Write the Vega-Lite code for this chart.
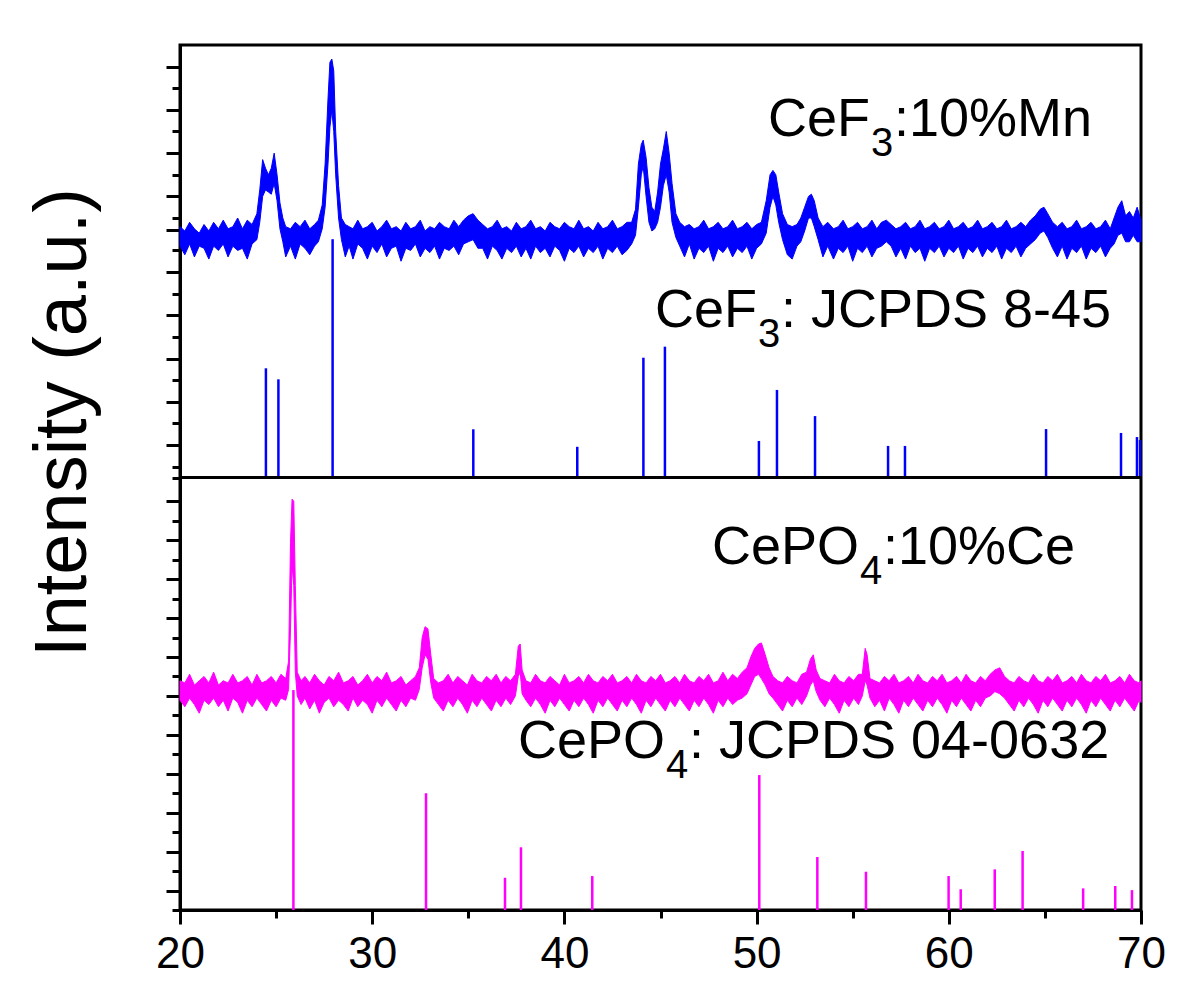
{
"$schema": "https://vega.github.io/schema/vega-lite/v6.json",
"width": 961, "height": 865,
"autosize": {"type": "none"},
"padding": {"left": 180, "top": 45, "right": 59, "bottom": 88},
"background": "white",
"config": {"view": {"stroke": "black", "strokeWidth": 3}},
"datasets": {
"topref": [{"x":24.47,"y":250.5},{"x":25.12,"y":245.4},{"x":27.94,"y":310.2},{"x":35.26,"y":222.3},{"x":40.67,"y":214.2},{"x":44.11,"y":255.4},{"x":45.23,"y":260.5},{"x":50.12,"y":216.9},{"x":51.06,"y":240.5},{"x":53.04,"y":228.4},{"x":56.84,"y":214.6},{"x":57.72,"y":214.6},{"x":65.06,"y":222.4},{"x":68.96,"y":220.6},{"x":69.79,"y":218.7},{"x":69.95,"y":217.3}],
"botref": [{"x":25.9,"y":101.7},{"x":32.8,"y":54.0},{"x":36.91,"y":14.9},{"x":37.74,"y":29.0},{"x":41.45,"y":15.7},{"x":50.14,"y":62.4},{"x":53.16,"y":24.5},{"x":55.69,"y":17.7},{"x":59.99,"y":15.7},{"x":60.62,"y":9.6},{"x":62.39,"y":18.8},{"x":63.84,"y":27.3},{"x":66.99,"y":10.0},{"x":68.66,"y":11.1},{"x":69.53,"y":9.2}],
"top": [
{"x":20.0,"y":307,"y2":316},{"x":20.25,"y":303,"y2":314},{"x":20.5,"y":308,"y2":318},{"x":20.75,"y":302,"y2":315},{"x":21.0,"y":307,"y2":313},{"x":21.25,"y":306,"y2":317},{"x":21.5,"y":301,"y2":314},{"x":21.75,"y":307,"y2":318},{"x":22.0,"y":305,"y2":315},{"x":22.25,"y":308,"y2":319},{"x":22.5,"y":302,"y2":315},{"x":22.75,"y":307,"y2":316},{"x":23.0,"y":305,"y2":320},{"x":23.25,"y":306,"y2":315},{"x":23.5,"y":301,"y2":319},{"x":23.75,"y":308,"y2":317},
{"x":24.0,"y":310,"y2":322},{"x":24.15,"y":318,"y2":333},{"x":24.3,"y":330,"y2":347},{"x":24.45,"y":333,"y2":343},{"x":24.6,"y":332,"y2":340},{"x":24.75,"y":331,"y2":343},{"x":24.9,"y":336,"y2":350},{"x":25.05,"y":328,"y2":340},{"x":25.2,"y":315,"y2":327},{"x":25.35,"y":309,"y2":320},{"x":25.5,"y":302,"y2":316},{"x":25.75,"y":307,"y2":315},{"x":26.0,"y":301,"y2":318},{"x":26.25,"y":308,"y2":316},{"x":26.5,"y":306,"y2":319},{"x":26.75,"y":303,"y2":315},{"x":27.0,"y":307,"y2":317},{"x":27.2,"y":309,"y2":319},
{"x":27.4,"y":315,"y2":326},{"x":27.55,"y":325,"y2":345},{"x":27.7,"y":345,"y2":375},{"x":27.8,"y":362,"y2":392},{"x":27.9,"y":370,"y2":393.5},{"x":28.0,"y":360,"y2":388},{"x":28.1,"y":340,"y2":360},{"x":28.25,"y":320,"y2":335},{"x":28.4,"y":310,"y2":320},{"x":28.6,"y":302,"y2":317},{"x":28.8,"y":307,"y2":316},{"x":29.0,"y":301,"y2":315},{"x":29.25,"y":308,"y2":319},{"x":29.5,"y":306,"y2":315},{"x":29.75,"y":301,"y2":316},
{"x":30.0,"y":307,"y2":318},{"x":30.25,"y":304,"y2":314},{"x":30.5,"y":308,"y2":316},{"x":30.75,"y":302,"y2":319},{"x":31.0,"y":306,"y2":315},{"x":31.25,"y":307,"y2":316},{"x":31.5,"y":300,"y2":314},{"x":31.75,"y":306,"y2":318},{"x":32.0,"y":305,"y2":315},{"x":32.25,"y":308,"y2":316},{"x":32.5,"y":302,"y2":319},{"x":32.75,"y":306,"y2":314},{"x":33.0,"y":304,"y2":316},{"x":33.25,"y":307,"y2":315},{"x":33.5,"y":301,"y2":318},{"x":33.75,"y":306,"y2":316},
{"x":34.0,"y":305,"y2":315},{"x":34.25,"y":307,"y2":319},{"x":34.5,"y":303,"y2":316},{"x":34.75,"y":308,"y2":319},{"x":35.0,"y":309,"y2":321},{"x":35.25,"y":310,"y2":322},{"x":35.5,"y":306,"y2":319},{"x":35.75,"y":306,"y2":317},{"x":36.0,"y":301,"y2":315},{"x":36.25,"y":307,"y2":316},{"x":36.5,"y":305,"y2":319},{"x":36.75,"y":301,"y2":315},{"x":37.0,"y":306,"y2":316},{"x":37.25,"y":304,"y2":314},{"x":37.5,"y":307,"y2":318},{"x":37.75,"y":302,"y2":315},
{"x":38.0,"y":306,"y2":316},{"x":38.25,"y":301,"y2":319},{"x":38.5,"y":307,"y2":315},{"x":38.75,"y":304,"y2":316},{"x":39.0,"y":306,"y2":314},{"x":39.25,"y":302,"y2":318},{"x":39.5,"y":307,"y2":316},{"x":39.75,"y":305,"y2":315},{"x":40.0,"y":300,"y2":318},{"x":40.25,"y":306,"y2":316},{"x":40.5,"y":304,"y2":315},{"x":40.75,"y":307,"y2":319},{"x":41.0,"y":302,"y2":315},{"x":41.25,"y":306,"y2":316},{"x":41.5,"y":304,"y2":314},{"x":41.75,"y":307,"y2":318},
{"x":42.0,"y":301,"y2":315},{"x":42.25,"y":306,"y2":316},{"x":42.5,"y":304,"y2":319},{"x":42.75,"y":307,"y2":315},{"x":43.0,"y":303,"y2":316},{"x":43.25,"y":305,"y2":318},{"x":43.5,"y":308,"y2":318},{"x":43.7,"y":312,"y2":324},{"x":43.85,"y":325,"y2":345},{"x":44.0,"y":340,"y2":354},{"x":44.1,"y":344,"y2":356},{"x":44.25,"y":330,"y2":348},{"x":44.4,"y":318,"y2":334},{"x":44.55,"y":314,"y2":325},{"x":44.7,"y":315,"y2":323},{"x":44.85,"y":318,"y2":332},
{"x":45.0,"y":325,"y2":345},{"x":45.15,"y":335,"y2":352},{"x":45.3,"y":340,"y2":360},{"x":45.45,"y":332,"y2":350},{"x":45.6,"y":318,"y2":336},{"x":45.8,"y":311,"y2":322},{"x":46.0,"y":307,"y2":318},{"x":46.25,"y":302,"y2":316},{"x":46.5,"y":308,"y2":317},{"x":46.75,"y":301,"y2":315},{"x":47.0,"y":306,"y2":316},{"x":47.25,"y":304,"y2":319},{"x":47.5,"y":307,"y2":315},{"x":47.75,"y":300,"y2":316},{"x":48.0,"y":306,"y2":318},{"x":48.25,"y":304,"y2":315},
{"x":48.5,"y":307,"y2":316},{"x":48.75,"y":302,"y2":319},{"x":49.0,"y":306,"y2":315},{"x":49.25,"y":304,"y2":316},{"x":49.5,"y":307,"y2":318},{"x":49.75,"y":301,"y2":315},{"x":50.0,"y":306,"y2":317},{"x":50.25,"y":308,"y2":318},{"x":50.5,"y":313,"y2":328},{"x":50.7,"y":325,"y2":340},{"x":50.85,"y":330,"y2":342},{"x":51.0,"y":326,"y2":340},{"x":51.15,"y":318,"y2":332},{"x":51.35,"y":310,"y2":322},{"x":51.6,"y":303,"y2":317},{"x":51.85,"y":301,"y2":316},
{"x":52.1,"y":307,"y2":317},{"x":52.3,"y":309,"y2":320},{"x":52.5,"y":314,"y2":325},{"x":52.7,"y":320,"y2":330},{"x":52.85,"y":320,"y2":331},{"x":53.0,"y":316,"y2":328},{"x":53.2,"y":310,"y2":320},{"x":53.45,"y":302,"y2":316},{"x":53.7,"y":307,"y2":318},{"x":54.0,"y":301,"y2":315},{"x":54.25,"y":306,"y2":316},{"x":54.5,"y":304,"y2":319},{"x":54.75,"y":307,"y2":315},{"x":55.0,"y":300,"y2":316},{"x":55.25,"y":306,"y2":318},{"x":55.5,"y":304,"y2":315},
{"x":55.75,"y":307,"y2":316},{"x":56.0,"y":302,"y2":319},{"x":56.25,"y":306,"y2":315},{"x":56.5,"y":307,"y2":318},{"x":56.75,"y":309,"y2":319},{"x":57.0,"y":307,"y2":317},{"x":57.25,"y":302,"y2":315},{"x":57.5,"y":306,"y2":316},{"x":57.75,"y":301,"y2":318},{"x":58.0,"y":307,"y2":315},{"x":58.25,"y":304,"y2":316},{"x":58.5,"y":306,"y2":319},{"x":58.75,"y":300,"y2":315},{"x":59.0,"y":306,"y2":316},{"x":59.25,"y":304,"y2":318},{"x":59.5,"y":307,"y2":315},
{"x":59.75,"y":302,"y2":316},{"x":60.0,"y":306,"y2":319},{"x":60.25,"y":304,"y2":315},{"x":60.5,"y":307,"y2":316},{"x":60.75,"y":301,"y2":318},{"x":61.0,"y":306,"y2":315},{"x":61.25,"y":304,"y2":316},{"x":61.5,"y":307,"y2":319},{"x":61.75,"y":302,"y2":315},{"x":62.0,"y":306,"y2":316},{"x":62.25,"y":304,"y2":318},{"x":62.5,"y":307,"y2":315},{"x":62.75,"y":301,"y2":316},{"x":63.0,"y":306,"y2":319},{"x":63.25,"y":304,"y2":315},{"x":63.5,"y":307,"y2":316},
{"x":63.75,"y":302,"y2":318},{"x":64.0,"y":306,"y2":316},{"x":64.25,"y":308,"y2":319},{"x":64.5,"y":310,"y2":321},{"x":64.75,"y":313,"y2":324},{"x":64.95,"y":314,"y2":325},{"x":65.15,"y":311,"y2":322},{"x":65.4,"y":306,"y2":318},{"x":65.65,"y":302,"y2":316},{"x":65.9,"y":307,"y2":318},{"x":66.15,"y":301,"y2":315},{"x":66.4,"y":306,"y2":316},{"x":66.65,"y":304,"y2":319},{"x":66.9,"y":307,"y2":315},{"x":67.15,"y":301,"y2":316},{"x":67.4,"y":306,"y2":318},
{"x":67.65,"y":304,"y2":315},{"x":67.9,"y":307,"y2":316},{"x":68.15,"y":302,"y2":319},{"x":68.4,"y":306,"y2":315},{"x":68.6,"y":308,"y2":320},{"x":68.8,"y":312,"y2":325},{"x":69.0,"y":313,"y2":328},{"x":69.2,"y":309,"y2":321},{"x":69.4,"y":309,"y2":323},{"x":69.6,"y":312,"y2":320},{"x":69.8,"y":309,"y2":325},{"x":70.0,"y":309,"y2":319}
],
"bot": [
{"x":20.0,"y":97,"y2":106},{"x":20.25,"y":94,"y2":105},{"x":20.5,"y":98,"y2":109},{"x":20.75,"y":95,"y2":104},{"x":21.0,"y":91,"y2":106},{"x":21.25,"y":97,"y2":108},{"x":21.5,"y":95,"y2":105},{"x":21.75,"y":98,"y2":110},{"x":22.0,"y":94,"y2":104},{"x":22.25,"y":97,"y2":106},{"x":22.5,"y":92,"y2":105},{"x":22.75,"y":98,"y2":109},{"x":23.0,"y":96,"y2":105},{"x":23.25,"y":91,"y2":106},{"x":23.5,"y":97,"y2":108},{"x":23.75,"y":94,"y2":104},
{"x":24.0,"y":98,"y2":109},{"x":24.25,"y":95,"y2":105},{"x":24.5,"y":92,"y2":106},{"x":24.75,"y":97,"y2":108},{"x":25.0,"y":94,"y2":105},{"x":25.25,"y":98,"y2":109},{"x":25.5,"y":97,"y2":107},{"x":25.65,"y":102,"y2":115},{"x":25.75,"y":130,"y2":170},{"x":25.83,"y":160,"y2":190},{"x":25.92,"y":150,"y2":189},{"x":26.0,"y":110,"y2":150},{"x":26.1,"y":99,"y2":110},{"x":26.3,"y":95,"y2":106},{"x":26.5,"y":98,"y2":108},{"x":26.75,"y":93,"y2":105},
{"x":27.0,"y":97,"y2":109},{"x":27.25,"y":91,"y2":106},{"x":27.5,"y":96,"y2":104},{"x":27.75,"y":98,"y2":108},{"x":28.0,"y":94,"y2":106},{"x":28.25,"y":97,"y2":110},{"x":28.5,"y":95,"y2":105},{"x":28.75,"y":92,"y2":106},{"x":29.0,"y":98,"y2":108},{"x":29.25,"y":94,"y2":104},{"x":29.5,"y":97,"y2":106},{"x":29.75,"y":95,"y2":109},{"x":30.0,"y":91,"y2":105},{"x":30.25,"y":97,"y2":108},{"x":30.5,"y":94,"y2":106},{"x":30.75,"y":98,"y2":110},
{"x":31.0,"y":95,"y2":105},{"x":31.25,"y":92,"y2":106},{"x":31.5,"y":97,"y2":108},{"x":31.75,"y":94,"y2":104},{"x":32.0,"y":98,"y2":106},{"x":32.25,"y":97,"y2":108},{"x":32.45,"y":102,"y2":112},{"x":32.6,"y":112,"y2":126},{"x":32.75,"y":118,"y2":131},{"x":32.9,"y":116,"y2":130},{"x":33.05,"y":105,"y2":118},{"x":33.2,"y":98,"y2":107},{"x":33.45,"y":95,"y2":105},{"x":33.7,"y":92,"y2":106},{"x":33.95,"y":97,"y2":109},{"x":34.2,"y":94,"y2":105},
{"x":34.45,"y":98,"y2":108},{"x":34.7,"y":95,"y2":106},{"x":34.95,"y":91,"y2":104},{"x":35.2,"y":97,"y2":109},{"x":35.45,"y":94,"y2":106},{"x":35.7,"y":98,"y2":105},{"x":35.95,"y":95,"y2":108},{"x":36.2,"y":92,"y2":106},{"x":36.45,"y":97,"y2":109},{"x":36.7,"y":94,"y2":105},{"x":36.95,"y":98,"y2":108},{"x":37.2,"y":95,"y2":106},{"x":37.45,"y":99,"y2":109},{"x":37.6,"y":108,"y2":122},{"x":37.7,"y":110,"y2":123},{"x":37.8,"y":100,"y2":111},
{"x":38.0,"y":97,"y2":106},{"x":38.25,"y":94,"y2":105},{"x":38.5,"y":98,"y2":109},{"x":38.75,"y":95,"y2":106},{"x":39.0,"y":91,"y2":105},{"x":39.25,"y":97,"y2":108},{"x":39.5,"y":94,"y2":106},{"x":39.75,"y":98,"y2":104},{"x":40.0,"y":95,"y2":109},{"x":40.25,"y":92,"y2":105},{"x":40.5,"y":97,"y2":106},{"x":40.75,"y":94,"y2":108},{"x":41.0,"y":98,"y2":105},{"x":41.25,"y":95,"y2":109},{"x":41.5,"y":91,"y2":106},{"x":41.75,"y":97,"y2":105},
{"x":42.0,"y":94,"y2":108},{"x":42.25,"y":98,"y2":106},{"x":42.5,"y":95,"y2":109},{"x":42.75,"y":92,"y2":105},{"x":43.0,"y":97,"y2":106},{"x":43.25,"y":94,"y2":108},{"x":43.5,"y":98,"y2":105},{"x":43.75,"y":95,"y2":109},{"x":44.0,"y":91,"y2":106},{"x":44.25,"y":97,"y2":105},{"x":44.5,"y":94,"y2":108},{"x":44.75,"y":98,"y2":106},{"x":45.0,"y":95,"y2":109},{"x":45.25,"y":92,"y2":105},{"x":45.5,"y":97,"y2":106},{"x":45.75,"y":94,"y2":108},
{"x":46.0,"y":98,"y2":105},{"x":46.25,"y":95,"y2":109},{"x":46.5,"y":92,"y2":106},{"x":46.75,"y":97,"y2":105},{"x":47.0,"y":94,"y2":108},{"x":47.25,"y":98,"y2":106},{"x":47.5,"y":95,"y2":109},{"x":47.75,"y":91,"y2":105},{"x":48.0,"y":97,"y2":106},{"x":48.25,"y":94,"y2":110},{"x":48.5,"y":98,"y2":106},{"x":48.75,"y":95,"y2":109},{"x":49.0,"y":97,"y2":107},{"x":49.25,"y":98,"y2":110},{"x":49.5,"y":100,"y2":112},{"x":49.7,"y":104,"y2":117},
{"x":49.9,"y":108,"y2":121},{"x":50.1,"y":109,"y2":123},{"x":50.25,"y":107,"y2":123.5},{"x":50.45,"y":104,"y2":118},{"x":50.65,"y":100,"y2":112},{"x":50.85,"y":98,"y2":108},{"x":51.1,"y":95,"y2":106},{"x":51.35,"y":92,"y2":105},{"x":51.6,"y":97,"y2":108},{"x":51.85,"y":94,"y2":106},{"x":52.1,"y":98,"y2":105},{"x":52.35,"y":95,"y2":109},{"x":52.6,"y":99,"y2":110},{"x":52.8,"y":104,"y2":116},{"x":52.95,"y":106,"y2":118},{"x":53.1,"y":101,"y2":111},
{"x":53.3,"y":97,"y2":107},{"x":53.55,"y":94,"y2":106},{"x":53.8,"y":98,"y2":105},{"x":54.05,"y":95,"y2":109},{"x":54.3,"y":91,"y2":106},{"x":54.55,"y":97,"y2":105},{"x":54.8,"y":94,"y2":108},{"x":55.05,"y":98,"y2":106},{"x":55.3,"y":95,"y2":109},{"x":55.5,"y":99,"y2":109},{"x":55.65,"y":106,"y2":121},{"x":55.75,"y":104,"y2":118},{"x":55.9,"y":98,"y2":107},{"x":56.15,"y":94,"y2":106},{"x":56.4,"y":97,"y2":105},{"x":56.65,"y":92,"y2":108},
{"x":56.9,"y":98,"y2":106},{"x":57.15,"y":95,"y2":109},{"x":57.4,"y":91,"y2":105},{"x":57.65,"y":97,"y2":106},{"x":57.9,"y":94,"y2":108},{"x":58.15,"y":98,"y2":105},{"x":58.4,"y":95,"y2":109},{"x":58.65,"y":92,"y2":106},{"x":58.9,"y":97,"y2":105},{"x":59.15,"y":94,"y2":108},{"x":59.4,"y":98,"y2":106},{"x":59.65,"y":95,"y2":109},{"x":59.9,"y":91,"y2":105},{"x":60.15,"y":97,"y2":106},{"x":60.4,"y":94,"y2":108},{"x":60.65,"y":98,"y2":105},
{"x":60.9,"y":95,"y2":109},{"x":61.15,"y":92,"y2":106},{"x":61.4,"y":97,"y2":105},{"x":61.65,"y":94,"y2":108},{"x":61.9,"y":98,"y2":106},{"x":62.15,"y":99,"y2":109},{"x":62.4,"y":101,"y2":111},{"x":62.65,"y":100,"y2":112},{"x":62.9,"y":98,"y2":108},{"x":63.15,"y":95,"y2":106},{"x":63.4,"y":92,"y2":105},{"x":63.65,"y":97,"y2":108},{"x":63.9,"y":94,"y2":106},{"x":64.15,"y":98,"y2":105},{"x":64.4,"y":95,"y2":109},{"x":64.65,"y":91,"y2":106},
{"x":64.9,"y":97,"y2":105},{"x":65.15,"y":94,"y2":108},{"x":65.4,"y":98,"y2":106},{"x":65.65,"y":95,"y2":109},{"x":65.9,"y":92,"y2":105},{"x":66.15,"y":97,"y2":106},{"x":66.4,"y":94,"y2":108},{"x":66.65,"y":98,"y2":105},{"x":66.9,"y":95,"y2":109},{"x":67.15,"y":91,"y2":106},{"x":67.4,"y":97,"y2":105},{"x":67.65,"y":94,"y2":108},{"x":67.9,"y":98,"y2":106},{"x":68.15,"y":95,"y2":109},{"x":68.4,"y":92,"y2":105},{"x":68.65,"y":97,"y2":106},
{"x":68.9,"y":94,"y2":108},{"x":69.15,"y":98,"y2":105},{"x":69.4,"y":95,"y2":109},{"x":69.65,"y":92,"y2":106},{"x":69.9,"y":97,"y2":105},{"x":70.0,"y":96,"y2":106}
],
"lab": [{"t":"CeF","x":50.593,"y":357.9},{"t":":10%Mn","x":57.149,"y":357.9},{"t":"CeF","x":44.714,"y":269.6},{"t":": JCPDS 8-45","x":51.27,"y":269.6},{"t":"CePO","x":47.68,"y":160.0},{"t":":10%Ce","x":56.577,"y":160.0},{"t":"CePO","x":37.586,"y":70.3},{"t":": JCPDS 04-0632","x":46.483,"y":70.3}],
"sub": [{"t":"3","x":55.952,"y":348.7},{"t":"3","x":50.073,"y":260.3},{"t":"4","x":55.38,"y":150.8},{"t":"4","x":45.286,"y":61.0}],
"divider": [{"x":20,"y":200},{"x":70,"y":200}]
},
"encoding": {
  "x": {"field": "x", "type": "quantitative", "scale": {"domain": [20, 70], "nice": false, "zero": false},
   "axis": {"values": [20,25,30,35,40,45,50,55,60,65,70], "labelExpr": "datum.value % 10 === 0 ? datum.label : ''", "title": null, "grid": false,
    "domainColor": "black", "domainWidth": 3, "tickColor": "black", "tickWidth": 3,
    "tickSize": {"condition": {"test": "datum.value % 10 === 0", "value": 14}, "value": 8},
    "labelFont": "Liberation Sans", "labelFontSize": 44, "labelColor": "black", "labelPadding": 8, "labelFlush": false, "labelOverlap": false}},
  "y": {"field": "y", "type": "quantitative", "scale": {"domain": [0, 400], "nice": false, "zero": false},
   "axis": {"values": [390,370,350,330,314.5,295,275,255,235,215,189,171,153,135,117,99,81,63,45,27,9,380,360,340,320,305,285,265,245,225,205,200,180,162,144,126,108,90,72,54,36,18,0],
    "labels": false, "grid": false, "domainColor": "black", "domainWidth": 3, "tickColor": "black", "tickWidth": 3,
    "tickSize": {"condition": {"test": "indexof([390,370,350,330,314.5,295,275,255,235,215,189,171,153,135,117,99,81,63,45,27,9], datum.value) >= 0", "value": 14}, "value": 8},
    "title": "Intensity (a.u.)", "titleFont": "Liberation Sans", "titleFontSize": 74, "titleFontWeight": "normal", "titleColor": "black",
    "titleX": -95, "titleY": 377, "titleAngle": 270, "titleBaseline": "alphabetic", "titleAlign": "center"}}
},
"layer": [
{"data": {"name": "topref"},
 "mark": {"type": "rule", "color": "#0000ff", "strokeWidth": 2.5},
 "encoding": {"y2": {"datum": 200}}},
{"data": {"name": "botref"},
 "mark": {"type": "rule", "color": "#ff00ff", "strokeWidth": 2.5},
 "encoding": {"y2": {"datum": 0}}},
{"data": {"name": "top"},
 "mark": {"type": "area", "color": "#0000ff", "opacity": 1, "stroke": "#0000ff", "strokeWidth": 1},
 "encoding": {"y2": {"field": "y2"}}},
{"data": {"name": "bot"},
 "mark": {"type": "area", "color": "#ff00ff", "opacity": 1, "stroke": "#ff00ff", "strokeWidth": 1},
 "encoding": {"y2": {"field": "y2"}}},
{"data": {"name": "divider"},
 "mark": {"type": "line", "color": "black", "strokeWidth": 3},
 "encoding": {}},
{"data": {"name": "lab"},
 "mark": {"type": "text", "font": "Liberation Sans", "fontSize": 54, "align": "left", "baseline": "alphabetic", "color": "black"},
 "encoding": {"text": {"field": "t"}}},
{"data": {"name": "sub"},
 "mark": {"type": "text", "font": "Liberation Sans", "fontSize": 40, "align": "left", "baseline": "alphabetic", "color": "black"},
 "encoding": {"text": {"field": "t"}}}
]
}
